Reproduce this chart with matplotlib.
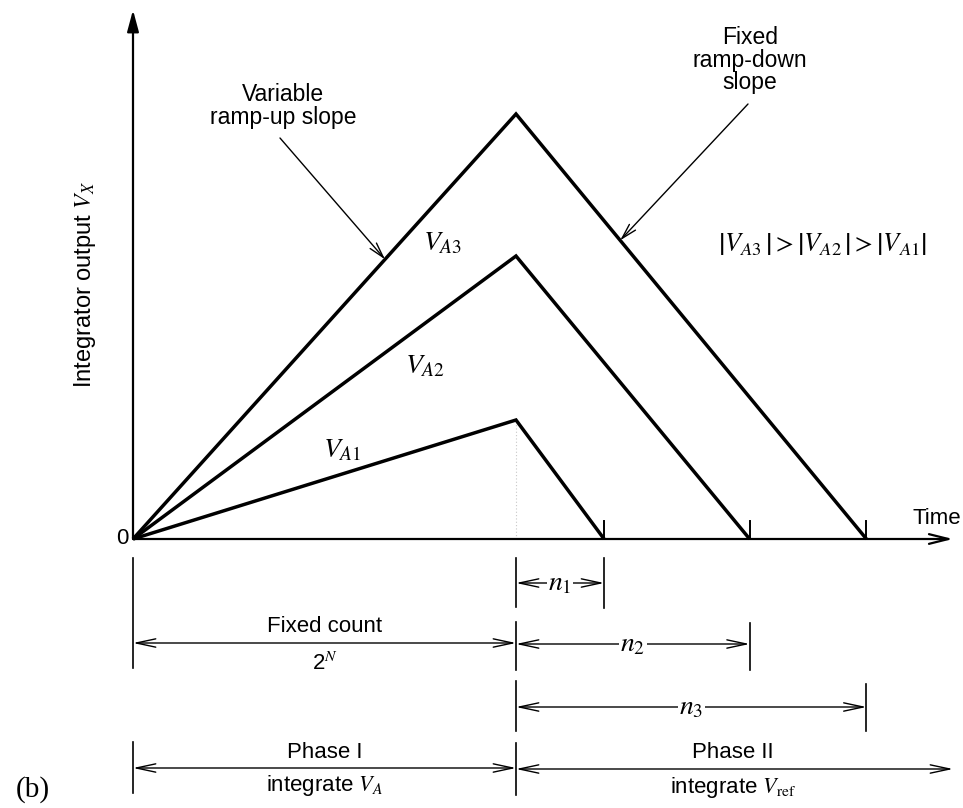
import matplotlib
matplotlib.use("Agg")
import matplotlib.pyplot as plt

plt.rcParams['font.family'] = ['Liberation Sans', 'DejaVu Sans']
plt.rcParams['mathtext.fontset'] = 'stix'

# ---- data (diagram units: time in fixed-count periods, output in arbitrary volts) ----
series_labels = [r'$V_{A1}$', r'$V_{A2}$', r'$V_{A3}$']
fixed_count_time = 1.0                 # end of phase I (2^N counts)
peak_values = [1.19, 2.83, 4.25]       # integrator output at end of phase I
end_times = [1.23, 1.61, 1.915]        # time at which output returns to zero
count_labels = [r'$n_1$', r'$n_2$', r'$n_3$']

# ---- layout helpers (pixel -> data) ----
W, H = 963, 808
PX0, PY0, SX, SY = 133, 539, 383.0, 100.0
def X(px): return (px - PX0) / SX
def Y(py): return (PY0 - py) / SY

fig = plt.figure(figsize=(W / 100, H / 100), dpi=100)
ax = fig.add_axes([0, 0, 1, 1])
ax.set_xlim(X(0), X(W))
ax.set_ylim(Y(H), Y(0))
ax.axis('off')

FS = 16
FSM = 20
T = fixed_count_time

# faint dotted line at end of phase I
ax.plot([T, T], [0, min(peak_values) + 0.03], color='0.78', lw=0.8, ls=(0, (1, 2)))

# traces
for v, te in zip(peak_values, end_times):
    ax.plot([0, T, te], [0, v, 0], color='black', lw=2.5,
            solid_joinstyle='miter', solid_capstyle='butt', zorder=3)
    ax.plot([te, te], [0, Y(521)], color='black', lw=1.4)

# axes with arrows
ax.annotate('', xy=(0, Y(10)), xytext=(0, 0),
            arrowprops=dict(arrowstyle='-|>,head_length=1.3,head_width=0.35',
                            lw=1.6, color='black', shrinkA=0, shrinkB=0))
ax.annotate('', xy=(X(953), 0), xytext=(0, 0),
            arrowprops=dict(arrowstyle='->,head_length=1.4,head_width=0.35',
                            lw=1.6, color='black', shrinkA=0, shrinkB=0))

ax.text(X(122), 0, '0', ha='center', va='center', fontsize=FS)
ax.text(X(937), Y(518), 'Time', ha='center', va='center', fontsize=FS)
ax.text(X(85), Y(284), r'Integrator output $V_X$', rotation=90,
        ha='center', va='center', fontsize=17)

# series labels
label_pos = [(342, 450), (425, 366), (443, 243)]
for lab, (px, py) in zip(series_labels, label_pos):
    ax.text(X(px), Y(py), lab, ha='center', va='center', fontsize=FSM)

# annotations with arrows
arrow_kw = dict(arrowstyle='->,head_length=1.1,head_width=0.3',
                lw=1.0, color='black', shrinkA=0, shrinkB=0)
t_up = 0.658
ax.text(X(283), Y(106), 'Variable\nramp-up slope', ha='center', va='center',
        fontsize=16.5, linespacing=1.05)
ax.annotate('', xy=(t_up * T, peak_values[2] * t_up), xytext=(X(280), Y(138)),
            arrowprops=arrow_kw)
t_dn = 1.272
v_dn = peak_values[2] * (end_times[2] - t_dn) / (end_times[2] - T)
ax.text(X(750), Y(60), 'Fixed\nramp-down\nslope', ha='center', va='center',
        fontsize=16.5, linespacing=1.0)
ax.annotate('', xy=(t_dn, v_dn), xytext=(X(748), Y(104)), arrowprops=arrow_kw)

ax.text(X(823), Y(244),
        r'$\left|V_{A3}\,\right| > \left|V_{A2}\,\right| > \left|V_{A1}\right|$',
        ha='center', va='center', fontsize=FSM - 1)

# ---- dimension lines ----
def vline(x, py1, py2, lw=1.2):
    ax.plot([x, x], [Y(py1), Y(py2)], color='black', lw=lw)

def dim(x1, x2, py, style='<->'):
    ax.annotate('', xy=(x2, Y(py)), xytext=(x1, Y(py)),
                arrowprops=dict(arrowstyle=style + ',head_length=1.4,head_width=0.3',
                                lw=1.0, color='black', shrinkA=0, shrinkB=0))

# left boundary (t = 0)
vline(0, 558, 668)
vline(0, 742, 793)
# phase boundary (t = T)
vline(T, 558, 607)
vline(T, 622, 670)
vline(T, 681, 731)
vline(T, 743, 795)

# n1, n2, n3 rows
rows_py = [583, 644, 707]
ticks_py = [(558, 608), (623, 670), (684, 731)]
for te, lab, py, (a, b) in zip(end_times, count_labels, rows_py, ticks_py):
    vline(te, a, b)
    dim(T, te, py)
    ax.text((T + te) / 2, Y(py), lab, ha='center', va='center', fontsize=FSM,
            bbox=dict(facecolor='white', edgecolor='none', pad=1.0))

# fixed count
dim(0, T, 643)
ax.text(T / 2, Y(626), 'Fixed count', ha='center', va='center', fontsize=FS)
ax.text(T / 2, Y(664), r'2$^{N}$', ha='center', va='center', fontsize=FS)

# phases
dim(0, T, 768)
dim(T, X(953), 769)
ax.text(T / 2, Y(752), 'Phase I', ha='center', va='center', fontsize=FS)
ax.text(T / 2, Y(786), r'integrate $V_A$', ha='center', va='center', fontsize=FS)
ax.text(X(733), Y(753), 'Phase II', ha='center', va='center', fontsize=FS)
ax.text(X(733), Y(787), r'integrate $V_{\mathrm{ref}}$', ha='center', va='center', fontsize=FS)

ax.text(X(33), Y(790), '(b)', ha='center', va='center', fontsize=21,
        family=['Liberation Serif', 'DejaVu Serif'])

fig.savefig('out.png', dpi=100)
